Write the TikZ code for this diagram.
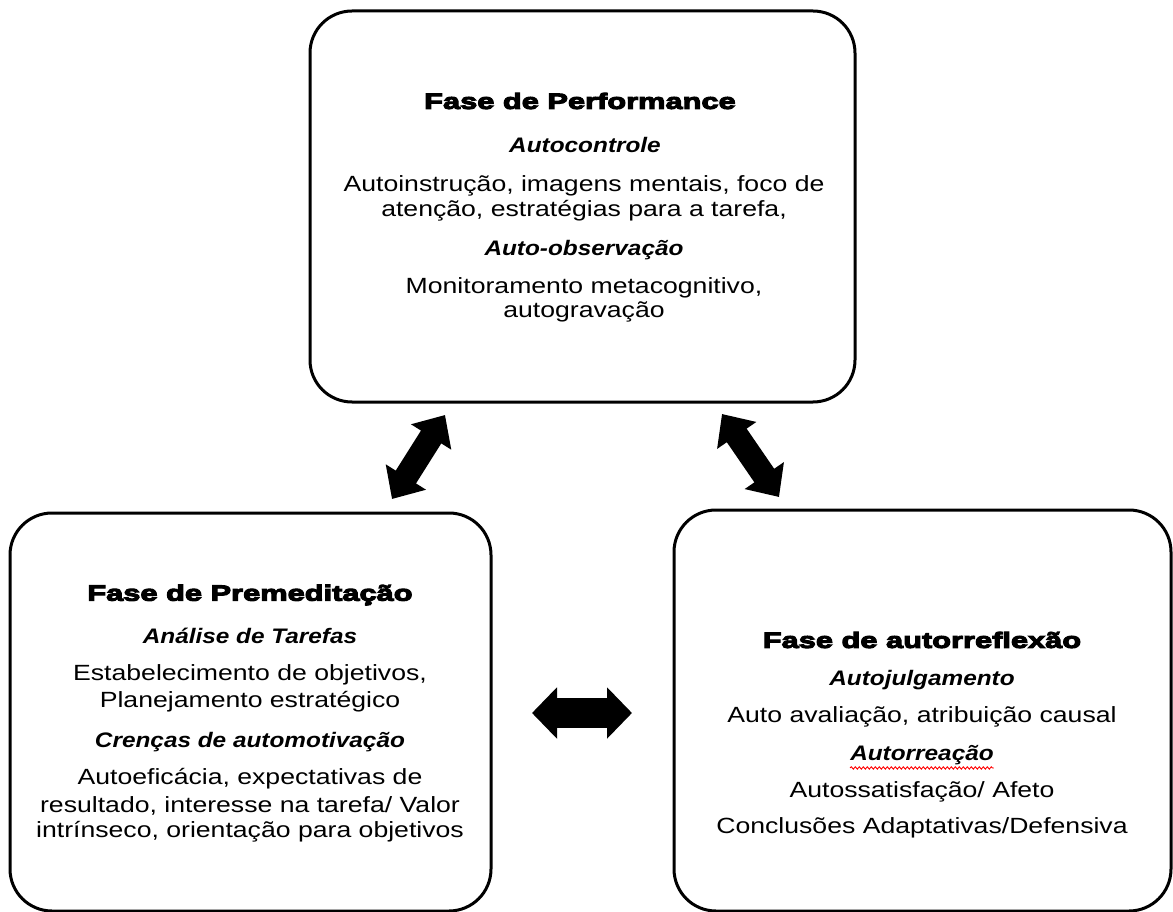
\documentclass[tikz,border=0pt]{standalone}
\usepackage{fontspec}
\setmainfont{Liberation Sans}
\newfontfamily\titlefont{Liberation Sans}[BoldFeatures={FakeBold=5,FakeStretch=1.40}]
\newfontfamily\subfont{Liberation Sans}[BoldItalicFeatures={FakeStretch=1.16}]
\newfontfamily\bodyfont{Liberation Sans}[FakeStretch=1.21]
\usetikzlibrary{arrows.meta,decorations.pathmorphing}
\tikzset{
  phasebox/.style={draw=black, line width=3pt, rounded corners=42pt},
  ttl/.style={font=\titlefont\bfseries\fontsize{22}{25}\selectfont, inner sep=0pt, anchor=center},
  sub/.style={font=\subfont\bfseries\itshape\fontsize{21}{25}\selectfont, inner sep=0pt, anchor=center},
  body/.style={font=\bodyfont\fontsize{22}{25}\selectfont, inner sep=0pt, anchor=center},
  blockarrow/.style={line width=#1, draw=black},
}
\begin{document}
\begin{tikzpicture}[x=1pt,y=-1pt]
\useasboundingbox (0,0) rectangle (1173,912);
% boxes
\draw[phasebox] (310,11) rectangle (855,402);
\node[inner sep=0pt] (perf) at (582.5,206.5) {};
\draw[phasebox] (10,513) rectangle (491,911);
\node[inner sep=0pt] (prem) at (250.5,712) {};
\draw[phasebox] (674,510) rectangle (1171,911);
\node[inner sep=0pt] (refl) at (922.5,710.5) {};

% top box texts
\node[ttl]  (t1) at (580,101) {Fase de Performance};
\node[sub]  (t2) at (585,145) {Autocontrole};
\node[body] (t3) at (584,186) {Autoinstrução, imagens mentais, foco de};
\node[body] (t4) at (584,211) {atenção, estratégias para a tarefa,};
\node[sub]  (t5) at (584,250) {Auto-observação};
\node[body] (t6) at (584,288) {Monitoramento metacognitivo,};
\node[body] (t7) at (584,312) {autogravação};

% left box texts
\node[ttl]  (l1) at (250,595) {Fase de Premeditação};
\node[sub]  (l2) at (250,636) {Análise de Tarefas};
\node[body] (l3) at (250,675) {Estabelecimento de objetivos,};
\node[body] (l4) at (250,702) {Planejamento estratégico};
\node[sub]  (l5) at (250,742) {Crenças de automotivação};
\node[body] (l6) at (250,779) {Autoeficácia, expectativas de};
\node[body] (l7) at (250,806) {resultado, interesse na tarefa/ Valor};
\node[body] (l8) at (250,832) {intrínseco, orientação para objetivos};

% right box texts
\node[ttl]  (r1) at (922,640) {Fase de autorreflexão};
\node[sub]  (r2) at (922,680) {Autojulgamento};
\node[body] (r3) at (922,717) {Auto avaliação, atribuição causal};
\node[sub]  (r4) at (922,755) {Autorreação};
\node[body] (r5) at (922,792) {Autossatisfação/ Afeto};
\node[body] (r6) at (922,828) {Conclusões Adaptativas/Defensiva};
\draw[red, line width=0.9pt, decorate, decoration={snake, amplitude=1.2pt, segment length=4pt}]
  ([yshift=-3pt]r4.south west) -- ([yshift=-3pt]r4.south east);

% arrows
\coordinate (a1) at (392,499);
\coordinate (a2) at (445,415);
\coordinate (b1) at (722,414);
\coordinate (b2) at (779,497);
\coordinate (c1) at (532,713);
\coordinate (c2) at (632,713);
\draw[blockarrow=24pt, {Triangle[width=46pt,length=26pt]}-{Triangle[width=46pt,length=26pt]}] (a1) -- (a2);
\draw[blockarrow=24pt, {Triangle[width=46pt,length=26pt]}-{Triangle[width=46pt,length=26pt]}] (b1) -- (b2);
\draw[blockarrow=30pt, {Triangle[width=50pt,length=25pt]}-{Triangle[width=50pt,length=25pt]}] (c1) -- (c2);
\end{tikzpicture}
\end{document}
